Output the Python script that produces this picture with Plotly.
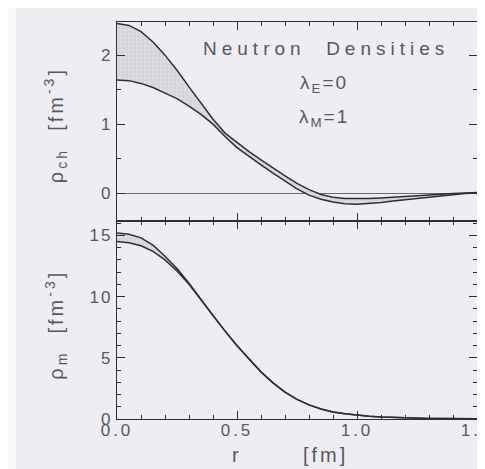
import plotly.graph_objects as go

# ---- data ----
r = [0.0, 0.05, 0.1, 0.15, 0.2, 0.25, 0.3, 0.35, 0.4, 0.45, 0.5, 0.55, 0.6, 0.65, 0.7,
     0.75, 0.8, 0.85, 0.9, 0.95, 1.0, 1.05, 1.1, 1.15, 1.2, 1.25, 1.3, 1.35, 1.4, 1.45, 1.5]

rho_ch_upper = [2.46, 2.43, 2.34, 2.19, 2.00, 1.78, 1.54, 1.30, 1.07, 0.87, 0.73, 0.60, 0.48,
                0.36, 0.25, 0.14, 0.05, -0.02, -0.06, -0.08, -0.085, -0.08, -0.07, -0.058,
                -0.046, -0.034, -0.022, -0.012, -0.004, 0.003, 0.008]
rho_ch_lower = [1.64, 1.63, 1.59, 1.53, 1.45, 1.37, 1.26, 1.14, 1.00, 0.82, 0.66, 0.53, 0.41,
                0.29, 0.17, 0.06, -0.03, -0.09, -0.13, -0.155, -0.16, -0.15, -0.135, -0.115,
                -0.095, -0.075, -0.055, -0.035, -0.018, -0.005, 0.005]

rho_m_upper = [15.2, 15.1, 14.8, 14.2, 13.3, 12.3, 11.1, 9.75, 8.45, 7.2, 6.0, 4.9, 3.85,
               2.95, 2.2, 1.6, 1.15, 0.82, 0.58, 0.42, 0.30, 0.22, 0.16, 0.12, 0.09, 0.07,
               0.05, 0.04, 0.03, 0.02, 0.015]
rho_m_lower = [14.5, 14.4, 14.15, 13.7, 13.0, 12.1, 11.0, 9.7, 8.42, 7.18, 5.99, 4.9, 3.85,
               2.95, 2.2, 1.6, 1.15, 0.82, 0.58, 0.42, 0.30, 0.22, 0.16, 0.12, 0.09, 0.07,
               0.05, 0.04, 0.03, 0.02, 0.015]

x_tickvals = [0.0, 0.5, 1.0, 1.5]
x_ticktext = ["0.0", "0.5", "1.0", "1.5"]
ych_tickvals = [0, 1, 2]
ych_ticktext = ["0", "1", "2"]
ym_tickvals = [0, 5, 10, 15]
ym_ticktext = ["0", "5", "10", "15"]

# ---- styling ----
LINE = "#2f2f33"
TXT = "#58585e"
BG = "#ededf2"
FONT = "Liberation Sans, Arial, sans-serif"


def sp(t, ls=3):
    return f'<span style="letter-spacing:{ls}px">{t}</span>'


pattern = dict(shape="+", size=4, solidity=0.25, fgcolor="#b4b4bc", bgcolor="#dcdce2")

fig = go.Figure()

# top panel (charge density)
fig.add_trace(go.Scatter(x=r, y=rho_ch_lower, mode="lines", line=dict(color=LINE, width=1.5),
                         xaxis="x2", yaxis="y2", showlegend=False, hoverinfo="skip"))
fig.add_trace(go.Scatter(x=r, y=rho_ch_upper, mode="lines", line=dict(color=LINE, width=1.5),
                         fill="tonexty", fillpattern=pattern,
                         xaxis="x2", yaxis="y2", showlegend=False, hoverinfo="skip"))

# bottom panel (magnetization density)
fig.add_trace(go.Scatter(x=r, y=rho_m_lower, mode="lines", line=dict(color=LINE, width=1.5),
                         xaxis="x", yaxis="y", showlegend=False, hoverinfo="skip"))
fig.add_trace(go.Scatter(x=r, y=rho_m_upper, mode="lines", line=dict(color=LINE, width=1.5),
                         fill="tonexty", fillpattern=pattern,
                         xaxis="x", yaxis="y", showlegend=False, hoverinfo="skip"))

common_axis = dict(showline=True, linecolor=LINE, linewidth=1.3, mirror="ticks",
                   ticks="inside", ticklen=8, tickwidth=1.2, tickcolor=LINE,
                   showgrid=False, zeroline=False,
                   tickfont=dict(family=FONT, size=17, color=TXT))

# the page is drawn with an 8px body margin, so the figure is sized/placed to compensate
fig.update_layout(
    width=477, height=461,
    margin=dict(l=109, r=8, t=14, b=50, autoexpand=False),
    paper_bgcolor=BG, plot_bgcolor=BG,
    font=dict(family=FONT, color=TXT),
    xaxis=dict(common_axis, domain=[0, 1], range=[0, 1.5], anchor="y",
               tickmode="array", tickvals=x_tickvals,
               ticktext=[sp(t, 3) for t in x_ticktext], ticklabelstandoff=-5,
               ticklabeloverflow="allow",
               minor=dict(dtick=0.1, tick0=0, ticks="inside", ticklen=4, tickcolor=LINE)),
    xaxis2=dict(common_axis, domain=[0, 1], range=[0, 1.5], anchor="y2", matches="x",
                showticklabels=False,
                tickmode="array", tickvals=x_tickvals,
                minor=dict(dtick=0.1, tick0=0, ticks="inside", ticklen=4, tickcolor=LINE)),
    yaxis=dict(common_axis, domain=[0, 0.4995], range=[0, 16.2], anchor="x",
               tickmode="array", tickvals=ym_tickvals,
               ticktext=[sp(t, 2) for t in ym_ticktext],
               minor=dict(dtick=1, tick0=0, ticks="inside", ticklen=4, tickcolor=LINE)),
    yaxis2=dict(common_axis, domain=[0.4995, 1], range=[-0.4, 2.48], anchor="x2",
                tickmode="array", tickvals=ych_tickvals,
                ticktext=[sp(t, 2) for t in ych_ticktext],
                zeroline=True, zerolinecolor="#6a6a70", zerolinewidth=1,
                minor=dict(dtick=0.5, tick0=0, ticks="inside", ticklen=4, tickcolor=LINE)),
    shapes=[dict(type="rect", xref="paper", yref="paper", x0=-0.31, x1=-0.2806,
                 y0=-0.15, y1=1.05, fillcolor="#f9f9f9", line=dict(width=0), layer="below")],
)

A = dict(xref="paper", yref="paper", showarrow=False, xanchor="center", yanchor="middle")
ann = []
# y-axis titles
ann.append(dict(A, text=sp("ρ<sub>ch</sub>  [fm<sup>-3</sup>]", 3),
                x=-0.169, y=0.7406, textangle=-90,
                font=dict(family=FONT, size=20, color=TXT)))
ann.append(dict(A, text=sp("ρ<sub>m</sub>  [fm<sup>-3</sup>]", 3),
                x=-0.169, y=0.238, textangle=-90,
                font=dict(family=FONT, size=20, color=TXT)))
# x-axis title
ann.append(dict(A, text="r", x=(235 - 116.7) / 360, y=-0.0907,
                font=dict(family=FONT, size=20, color=TXT)))
ann.append(dict(A, text=sp("[fm]", 3), x=(325 - 116.7) / 360, y=-0.0907,
                font=dict(family=FONT, size=20, color=TXT)))
# in-plot texts
ann.append(dict(A, text=sp("Neutron  Densities", 5), x=0.58, y=0.932,
                font=dict(family=FONT, size=19, color=TXT)))
ann.append(dict(A, text=sp("λ<sub>E</sub>=0", 2), x=0.576, y=0.845,
                font=dict(family=FONT, size=19, color=TXT)))
ann.append(dict(A, text=sp("λ<sub>M</sub>=1", 2), x=0.576, y=0.758,
                font=dict(family=FONT, size=19, color=TXT)))
fig.update_layout(annotations=ann)

fig.write_html("out.html")
